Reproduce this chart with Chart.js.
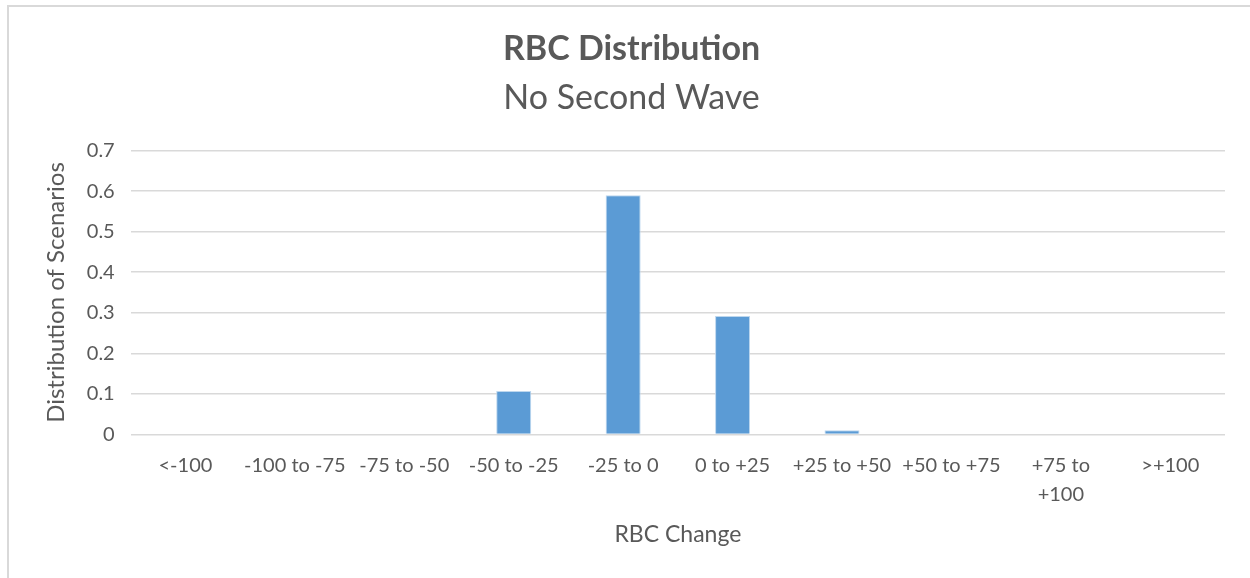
<!DOCTYPE html>
<html>
<head>
<meta charset="utf-8">
<script src="https://cdn.jsdelivr.net/npm/chart.js@4.4.1/dist/chart.umd.min.js"></script>
<style>
  html, body { margin: 0; padding: 0; background: #fff; }
  #frame {
    position: absolute; left: 7px; top: 5px; width: 1260px; height: 590px;
    border-left: 2px solid #d9d9d9; border-top: 2px solid #d9d9d9; box-sizing: border-box;
  }
  #wrap { position: absolute; left: 0; top: 0; width: 1250px; height: 578px; }
</style>
</head>
<body>
<div id="frame"></div>
<div id="wrap"><canvas id="myChart"></canvas></div>
<script>
// RBC distribution bar chart
const categories = ['<-100', '-100 to -75', '-75 to -50', '-50 to -25', '-25 to 0',
    '0 to +25', '+25 to +50', '+50 to +75', ['+75 to', '+100'], '>+100'];
const shares = [0, 0, 0, 0.107, 0.59, 0.292, 0.01, 0, 0, 0];
const yTicks = [0, 0.1, 0.2, 0.3, 0.4, 0.5, 0.6, 0.7];

document.addEventListener("DOMContentLoaded", function() {
    const font = 'Lato';
    const ctx = document.getElementById('myChart').getContext('2d');
    new Chart(ctx, {
        type: 'bar',
        data: {
            labels: categories,
            datasets: [{
                label: 'Distribution',
                data: shares,
                backgroundColor: '#5b9bd5',
                borderColor: '#bdd7ee',
                borderWidth: 1,
                categoryPercentage: 1,
                barPercentage: 0.32
            }]
        },
        options: {
            responsive: true,
            maintainAspectRatio: false,
            animation: false,
            layout: { padding: { left: 38, right: 25, top: 29, bottom: 26 } },
            scales: {
                y: {
                    min: 0,
                    max: 0.7,
                    afterBuildTicks: axis => { axis.ticks = yTicks.map(v => ({ value: v })); },
                    border: { display: false },
                    grid: { color: '#d9d9d9', lineWidth: 1.5, drawTicks: false },
                    ticks: {
                        padding: 16,
                        color: '#595959',
                        font: { family: font, size: 20 },
                        callback: v => String(v)
                    },
                    title: {
                        display: true,
                        text: 'Distribution of Scenarios',
                        color: '#595959',
                        font: { family: font, size: 24 },
                        padding: { bottom: 0 }
                    }
                },
                x: {
                    border: { display: false },
                    grid: { display: false },
                    ticks: {
                        padding: 9,
                        color: '#595959',
                        maxRotation: 0,
                        autoSkip: false,
                        font: { family: font, size: 20, lineHeight: 1.45 }
                    },
                    title: {
                        display: true,
                        text: 'RBC Change',
                        color: '#595959',
                        font: { family: font, size: 23 },
                        padding: { top: 2, bottom: 4 }
                    }
                }
            },
            plugins: {
                legend: { display: false },
                tooltip: { enabled: false },
                title: {
                    display: true,
                    text: 'RBC Distribution',
                    color: '#595959',
                    font: { family: font, size: 34, weight: 'bold' },
                    padding: { bottom: 8 }
                },
                subtitle: {
                    display: true,
                    text: 'No Second Wave',
                    color: '#595959',
                    font: { family: font, size: 34 },
                    padding: { bottom: 32 }
                }
            }
        }
    });
});
</script>
</body>
</html>
